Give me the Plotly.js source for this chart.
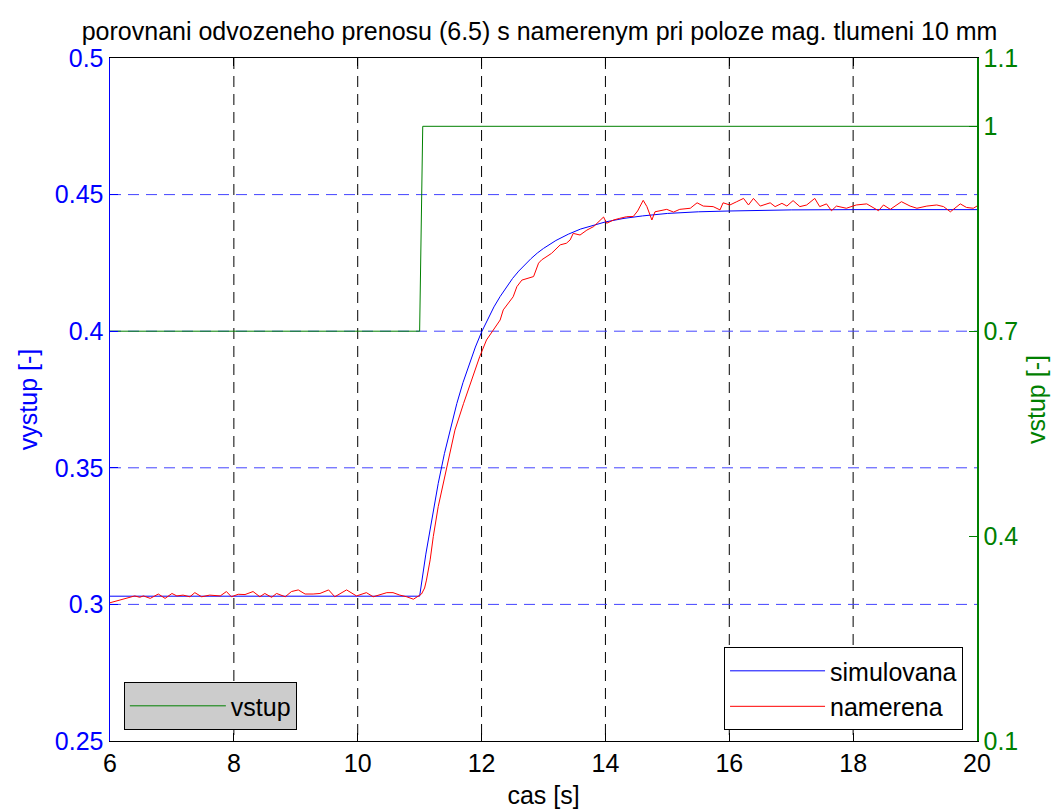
<!DOCTYPE html>
<html>
<head>
<meta charset="utf-8">
<script src="https://cdn.plot.ly/plotly-3.0.1.min.js"></script>
<style>
html,body{margin:0;padding:0;background:#fff;}
#chart{width:1058px;height:812px;}
#chart .gridlayer path{shape-rendering:geometricPrecision !important;}
</style>
</head>
<body>
<div id="chart"></div>
<script>
// simulated response (simulovana)
var simT = [6, 11.0, 11.1, 11.2, 11.3, 11.4, 11.5, 11.6, 11.7, 11.8, 11.9, 12.0, 12.1, 12.2, 12.3, 12.4, 12.5, 12.6, 12.7, 12.8, 12.9, 13.0, 13.2, 13.4, 13.6, 13.8, 14.0, 14.3, 14.6, 15.0, 15.5, 16.0, 17.0, 18.0, 20.0];
var simY = [0.3030, 0.3030, 0.3184, 0.3321, 0.3443, 0.3552, 0.3648, 0.3735, 0.3812, 0.3881, 0.3942, 0.3997, 0.4045, 0.4089, 0.4127, 0.4162, 0.4193, 0.4220, 0.4245, 0.4266, 0.4286, 0.4303, 0.4332, 0.4355, 0.4374, 0.4388, 0.4400, 0.4413, 0.4422, 0.4431, 0.4437, 0.4440, 0.4444, 0.4445, 0.4445];

// measured response (namerena)
var measT = [6.00, 6.13, 6.16, 6.32, 6.40, 6.48, 6.54, 6.65, 6.78, 6.89, 7.00, 7.08, 7.18, 7.29, 7.37, 7.48, 7.61, 7.78, 7.88, 7.96,
  8.07, 8.18, 8.31, 8.42, 8.50, 8.61, 8.69, 8.83, 8.93, 9.04, 9.15, 9.28, 9.39, 9.53, 9.63, 9.82, 9.98, 10.14, 10.25, 10.47,
  10.57, 10.68, 10.79, 10.90, 10.98, 11.03, 11.08, 11.11, 11.17, 11.22, 11.30, 11.44, 11.57, 11.71, 11.84, 11.97, 12.08, 12.19, 12.30, 12.35,
  12.51, 12.57, 12.65, 12.84, 12.92, 12.97, 13.05, 13.13, 13.27, 13.37, 13.43, 13.48, 13.59, 13.70, 13.81, 13.86, 13.97, 14.02, 14.13, 14.23,
  14.34, 14.45, 14.52, 14.61, 14.67, 14.75, 14.80, 14.99, 15.10, 15.20, 15.37, 15.48, 15.58, 15.74, 15.85, 15.90, 16.01, 16.12, 16.23, 16.31,
  16.39, 16.50, 16.66, 16.74, 16.85, 16.93, 17.03, 17.14, 17.25, 17.38, 17.46, 17.57, 17.65, 17.73, 17.89, 18.05, 18.22, 18.41, 18.49, 18.60,
  18.78, 18.92, 19.03, 19.19, 19.35, 19.46, 19.57, 19.73, 19.83, 19.94, 20.00];
var measY = [0.3006, 0.3014, 0.3016, 0.3026, 0.3031, 0.3026, 0.3031, 0.3022, 0.3038, 0.3022, 0.3040, 0.3031, 0.3034, 0.3028, 0.3043, 0.3028, 0.3034, 0.3031, 0.3047, 0.3028,
  0.3037, 0.3036, 0.3047, 0.3028, 0.3040, 0.3026, 0.3040, 0.3028, 0.3047, 0.3053, 0.3038, 0.3038, 0.3040, 0.3053, 0.3028, 0.3053, 0.3031, 0.3043, 0.3028, 0.3043,
  0.3043, 0.3034, 0.3028, 0.3019, 0.3031, 0.3038, 0.3060, 0.3089, 0.3163, 0.3248, 0.3358, 0.3503, 0.3638, 0.3736, 0.3821, 0.3907, 0.3968, 0.4004, 0.4041, 0.4078,
  0.4126, 0.4163, 0.4187, 0.4200, 0.4249, 0.4261, 0.4273, 0.4285, 0.4316, 0.4322, 0.4334, 0.4358, 0.4352, 0.4370, 0.4383, 0.4395, 0.4418, 0.4395, 0.4407, 0.4413,
  0.4419, 0.4420, 0.4440, 0.4479, 0.4456, 0.4407, 0.4437, 0.4446, 0.4436, 0.4446, 0.4450, 0.4470, 0.4458, 0.4456, 0.4444, 0.4470, 0.4462, 0.4474, 0.4486, 0.4462,
  0.4486, 0.4458, 0.4470, 0.4456, 0.4468, 0.4458, 0.4478, 0.4456, 0.4462, 0.4486, 0.4456, 0.4466, 0.4441, 0.4458, 0.4450, 0.4462, 0.4466, 0.4441, 0.4462, 0.4446,
  0.4474, 0.4458, 0.4450, 0.4458, 0.4462, 0.4456, 0.4437, 0.4466, 0.4453, 0.4450, 0.4458];

// input step (vstup), right axis
var inT = [6, 11.0, 11.05, 20];
var inY = [0.7, 0.7, 1.0, 1.0];

// tick labels
var xTicks = [6, 8, 10, 12, 14, 16, 18, 20];
var yTicks = [0.25, 0.3, 0.35, 0.4, 0.45, 0.5];
var yTickText = ['0.25', '0.3', '0.35', '0.4', '0.45', '0.5'];
var y2Ticks = [0.1, 0.4, 0.7, 1.0, 1.1];
var y2TickText = ['0.1', '0.4', '0.7', '1', '1.1'];

var FONT = 'Liberation Sans, Arial, Helvetica, sans-serif';

var traces = [
  {x: simT, y: simY, type: 'scatter', mode: 'lines', name: 'simulovana',
   line: {color: '#0000ff', width: 1}, legend: 'legend'},
  {x: measT, y: measY, type: 'scatter', mode: 'lines', name: 'namerena',
   line: {color: '#ff0000', width: 1}, legend: 'legend'},
  {x: inT, y: inY, type: 'scatter', mode: 'lines', name: 'vstup', yaxis: 'y2',
   line: {color: '#008000', width: 1}, legend: 'legend2'}
];

var layout = {
  width: 1058, height: 812,
  margin: {l: 110, r: 81, t: 58, b: 71},
  paper_bgcolor: '#ffffff', plot_bgcolor: '#ffffff',
  font: {family: FONT, size: 25, color: '#000'},
  title: {text: 'porovnani odvozeneho prenosu (6.5) s namerenym pri poloze mag. tlumeni 10 mm',
          font: {family: FONT, size: 25, color: '#000'}, x: 0.51, xanchor: 'center', y: 0.962, yanchor: 'middle'},
  showlegend: true,
  xaxis: {
    range: [6, 20], tickvals: xTicks, ticktext: xTicks.map(String),
    showline: true, linecolor: '#000', linewidth: 1, mirror: 'ticks',
    ticks: 'inside', ticklen: 8, tickcolor: '#000',
    showgrid: true, gridcolor: '#000000', gridwidth: 1, griddash: '11px,7px',
    zeroline: false, tickfont: {family: FONT, size: 25, color: '#000'},
    title: {text: 'cas [s]', font: {family: FONT, size: 25, color: '#000'}, standoff: 10}
  },
  yaxis: {
    range: [0.25, 0.5], tickvals: yTicks, ticktext: yTickText,
    showline: true, linecolor: '#0000ff', linewidth: 1.5,
    ticks: 'inside', ticklen: 8, tickcolor: '#0000ff',
    showgrid: true, gridcolor: '#4444ff', gridwidth: 1, griddash: '11px,7px',
    zeroline: false, tickfont: {family: FONT, size: 25, color: '#0000ff'},
    title: {text: 'vystup [-]', font: {family: FONT, size: 25, color: '#0000ff'}, standoff: 10}
  },
  yaxis2: {
    range: [0.1, 1.1], tickvals: y2Ticks, ticktext: y2TickText,
    overlaying: 'y', side: 'right', anchor: 'x',
    showline: true, linecolor: '#008000', linewidth: 1.5,
    ticks: 'inside', ticklen: 8, tickcolor: '#008000',
    showgrid: false, zeroline: false,
    tickfont: {family: FONT, size: 25, color: '#008000'},
    title: {text: 'vstup [-]', font: {family: FONT, size: 25, color: '#008000'}, standoff: 10}
  },
  legend: {
    x: 0.9839, y: 0.016, xanchor: 'right', yanchor: 'bottom',
    bgcolor: '#ffffff', bordercolor: '#000', borderwidth: 1,
    font: {family: FONT, size: 25, color: '#000'}, itemwidth: 95, tracegroupgap: 0
  },
  legend2: {
    x: 0.016, y: 0.016, xanchor: 'left', yanchor: 'bottom',
    bgcolor: '#cccccc', bordercolor: '#000', borderwidth: 1,
    font: {family: FONT, size: 25, color: '#000'}, itemwidth: 96
  }
};

Plotly.newPlot('chart', traces, layout, {displayModeBar: false, staticPlot: true});
</script>
</body>
</html>
